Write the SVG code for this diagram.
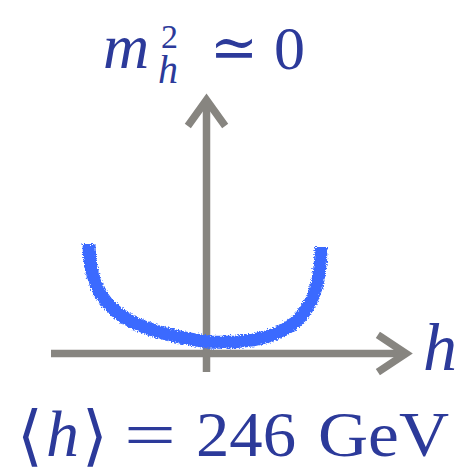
<svg xmlns="http://www.w3.org/2000/svg" width="466" height="474" viewBox="0 0 466 474">
<style>
.axis{stroke:#878580;stroke-width:7.5;fill:none;stroke-linecap:butt}
.head{stroke:#878580;stroke-width:7.5;fill:none;stroke-linecap:square;stroke-linejoin:miter}
.t{font-family:"Liberation Serif","DejaVu Serif",serif;fill:#2c3a9a}
.i{font-style:italic}
</style>
<defs>
<filter id="rough" x="-10%" y="-10%" width="120%" height="120%">
<feTurbulence type="fractalNoise" baseFrequency="0.7" numOctaves="2" seed="3" result="n"/>
<feDisplacementMap in="SourceGraphic" in2="n" scale="5" xChannelSelector="R" yChannelSelector="G"/>
</filter>
</defs>
<rect width="466" height="474" fill="#fff"/>
<g id="axes">
<line class="axis" x1="51" y1="353.5" x2="406" y2="353.5"/>
<polyline class="head" points="381,337 406,353.5 381,370"/>
<line class="axis" x1="206.5" y1="372" x2="206.5" y2="100"/>
<polyline class="head" points="190,123 206.5,100 223,123"/>
</g>
<g id="curve">
<path d="M 89 244 C 89 312, 130 330, 208 342 C 292 346, 321 315, 321 247" fill="none" stroke="#3a6bff" stroke-width="13" filter="url(#rough)"/>
</g>
<g id="labels">
<text class="t i" x="103" y="68" font-size="64">m</text>
<text class="t" x="161" y="48" font-size="34">2</text>
<text class="t i" x="158" y="83" font-size="40">h</text>
<text class="t" x="210" y="68" font-size="60" textLength="48" lengthAdjust="spacingAndGlyphs">≃</text>
<text class="t" x="274" y="69" font-size="62">0</text>
<text class="t i" x="423" y="370" font-size="68">h</text>
<text class="t" x="17" y="458" font-size="66">⟨</text>
<text class="t i" x="46" y="456" font-size="66">h</text>
<text class="t" x="82" y="458" font-size="66">⟩</text>
<text class="t" x="124" y="456" font-size="64" textLength="52" lengthAdjust="spacingAndGlyphs">=</text>
<text class="t" x="196" y="456" font-size="64" textLength="100" lengthAdjust="spacingAndGlyphs">246</text>
<text class="t" x="318" y="456" font-size="64" textLength="131" lengthAdjust="spacingAndGlyphs">GeV</text>
</g>
</svg>
